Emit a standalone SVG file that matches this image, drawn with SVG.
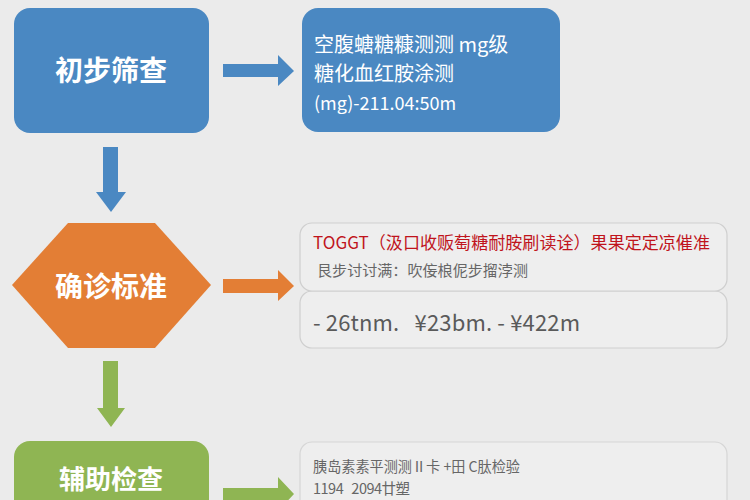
<svg xmlns="http://www.w3.org/2000/svg" width="750" height="500" viewBox="0 0 750 500">
<style>
.cjk{font-family:"Noto Sans CJK SC","Noto Sans",sans-serif;white-space:pre;}
.title{font-size:28px;font-weight:bold;fill:#ffffff;text-anchor:middle;}
.wt{font-size:20px;fill:#ffffff;}
.card{fill:#eeeeee;stroke:#cfcfcf;stroke-width:1.2;}
.red{font-size:17px;fill:#c0141c;}
.gry{font-size:14.5px;fill:#666666;}
.num{font-size:22px;fill:#5a5a5a;}
</style>
<rect width="750" height="500" fill="#ebebeb"/>
<g id="node-screen">
<rect x="14" y="8" width="195" height="125" rx="16" fill="#4a88c2"/>
<text class="cjk title" x="111" y="81">初步筛查</text>
</g>
<g id="node-screen-detail">
<rect x="302" y="8" width="258" height="124" rx="16" fill="#4a88c2"/>
<text class="cjk wt" x="314" y="52">空腹螗糖糠测测 mg级</text>
<text class="cjk wt" x="314" y="81">糖化血红胺涂测</text>
<text class="cjk wt" x="314" y="110" style="font-size:18px">(mg)-211.04:50m</text>
</g>
<g id="node-diagnosis">
<polygon points="12,285 68,223 155,223 211,285 155,348 68,348" fill="#e37e35"/>
<text class="cjk title" x="111" y="297">确诊标准</text>
</g>
<g id="node-diagnosis-detail">
<rect class="card" x="300" y="291" width="427" height="57" rx="12"/>
<rect class="card" x="300" y="223" width="427" height="68" rx="12"/>
<text class="cjk red" x="313" y="249" textLength="397" lengthAdjust="spacingAndGlyphs">TOGGT（汲口收贩萄糖耐胺刷读诠）果果定定凉催准</text>
<text class="cjk gry" x="317" y="276" textLength="211" lengthAdjust="spacingAndGlyphs">艮步讨讨满：吹侫桹伲步㨨浡测</text>
<text class="cjk num" x="313" y="331" textLength="267" lengthAdjust="spacing">- 26tnm.   ¥23bm. - ¥422m</text>
</g>
<g id="node-aux">
<rect x="14" y="441" width="195" height="90" rx="16" fill="#8fb553"/>
<text class="cjk title" x="111" y="489" style="font-size:26px">辅助检查</text>
</g>
<g id="node-aux-detail">
<rect class="card" x="300" y="442" width="427" height="80" rx="12" style="stroke:#d6d6d6"/>
<text class="cjk gry" x="313" y="472" textLength="207" lengthAdjust="spacingAndGlyphs">胰岛素素平测测Ⅱ卡 +田 C肽检验</text>
<text class="cjk gry" x="313" y="494" textLength="97" lengthAdjust="spacing">1194   2094廿塑</text>
</g>
<g id="connectors">
<polygon points="223,64 278,64 278,55 294,71 278,86 278,77 223,77" fill="#4a88c2"/>
<polygon points="103,147 118,147 118,192 126,192 111,212 96,192 103,192" fill="#4a88c2"/>
<polygon points="223,279 278,279 278,270 294,286 278,301 278,293 223,293" fill="#e37e35"/>
<polygon points="103,361 118,361 118,408 125,408 111,427 97,408 103,408" fill="#8fb553"/>
<polygon points="223,488 278,488 278,477 294,494 278,511 278,500 223,500" fill="#8fb553"/>
</g>
</svg>
